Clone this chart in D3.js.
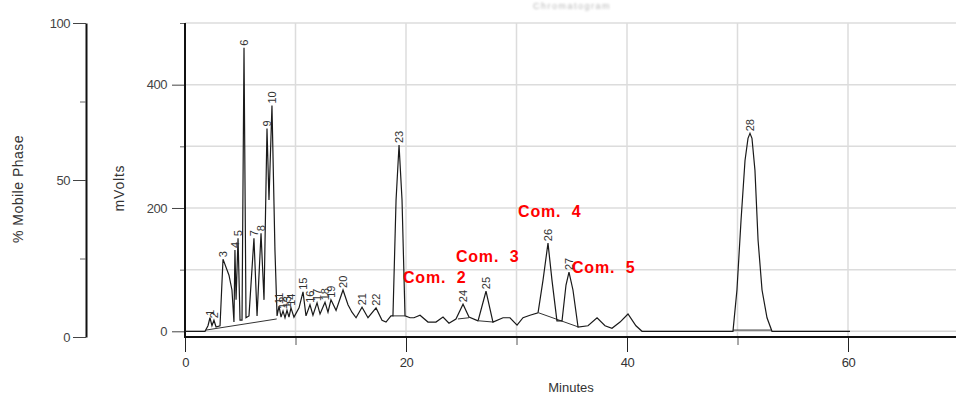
<!DOCTYPE html>
<html>
<head>
<meta charset="utf-8">
<script src="https://cdn.jsdelivr.net/npm/d3@7"></script>
<style>
  html, body { margin: 0; padding: 0; background: #fff; }
  svg { display: block; font-family: Arial, "Liberation Sans", sans-serif; }
</style>
</head>
<body>
<svg id="chart" width="956" height="397"></svg>
<script>
// Detector trace: [minutes, mV] vertices
const trace = [
  [0, 0], [1.81, 0], [2.08, 9], [2.26, 22], [2.44, 9], [2.62, 18], [2.81, 7], [3.17, 9],
  [3.44, 117], [3.98, 91], [4.25, 67], [4.43, 15], [4.52, 132], [4.62, 51], [4.80, 151],
  [4.98, 18], [5.16, 18], [5.34, 460], [5.52, 22], [5.79, 25], [6.24, 151], [6.52, 25],
  [6.88, 159], [7.15, 51], [7.42, 329], [7.60, 213], [7.87, 366], [8.14, 132], [8.33, 25],
  [8.51, 41], [8.69, 23], [8.87, 33], [9.05, 22], [9.23, 34], [9.41, 23], [9.59, 38],
  [9.86, 23], [10.32, 38], [10.68, 64], [10.95, 25], [11.31, 43], [11.58, 26], [11.95, 46],
  [12.22, 28], [12.67, 47], [12.94, 31], [13.21, 51], [13.67, 34], [14.30, 67], [14.75, 43],
  [15.11, 31], [15.48, 22], [16.02, 39], [16.56, 22], [17.29, 38], [17.83, 18], [18.19, 15],
  [18.64, 25], [18.82, 25], [19.10, 213], [19.37, 302], [19.64, 213], [19.91, 25],
  [20.36, 22], [20.72, 22], [21.27, 26], [21.99, 15], [22.71, 15], [23.35, 23], [23.89, 13],
  [24.52, 20], [25.16, 44], [25.70, 23], [26.52, 17], [27.24, 65], [27.87, 15], [28.78, 22],
  [29.41, 22], [30.05, 10], [30.59, 22], [31.22, 26], [31.95, 30], [32.40, 83], [32.85, 143],
  [33.21, 83], [33.66, 17], [34.12, 17], [34.48, 75], [34.75, 96], [35.11, 67], [35.57, 7],
  [36.47, 9], [37.29, 22], [38.01, 9], [38.64, 5], [39.37, 15], [40.09, 28], [40.81, 9],
  [41.36, 0], [49.59, 0], [49.95, 67], [50.32, 180], [50.68, 277], [50.95, 313], [51.13, 321],
  [51.31, 313], [51.58, 261], [51.86, 148], [52.22, 67], [52.67, 22], [53.12, 0], [60.18, 0]
];

// Integration baselines drawn beneath peaks
const baselines = [
  [[1.9, 2], [8.3, 20]],
  [[18.8, 25], [19.9, 25]],
  [[24.7, 20], [25.7, 22]],
  [[26.6, 17], [27.9, 15]],
  [[32.0, 30], [35.6, 7]],
  [[49.6, 2], [53.1, 2]]
];

// Peak numbers and their apex times (minutes)
const peakIds   = ["1","2","3","4","5","6","7","8","9","10","11","12","13","14","15","16","17","18","19","20","21","22","23","24","25","26","27","28"];
const peakTimes = [2.26, 2.62, 3.44, 4.52, 4.80, 5.34, 6.24, 6.88, 7.42, 7.87, 8.51, 8.87, 9.23, 9.59, 10.68, 11.31, 11.95, 12.67, 13.21, 14.30, 16.02, 17.29, 19.37, 25.16, 27.24, 32.85, 34.75, 51.13];

// Compound annotations: text, minutes, mV of text baseline
const compoundNames = ["Com.  2", "Com.  3", "Com.  4", "Com.  5"];
const compoundTimes = [19.73, 24.52, 30.14, 35.02];
const compoundMv    = [78, 112, 185, 94];

// Axis tick values
const mvTicksMajor = [0, 200, 400];
const mvTicksMinor = [100, 300, 500];
const mpTicksMajor = [0, 50, 100];
const mpTicksMinor = [25, 75];
const minuteTicksMajor = [0, 20, 40, 60];
const minuteTicksMinor = [10, 30, 50];
const gridMinutes = [10, 20, 30, 40, 50, 60];
const gridMv = [100, 200, 300, 400, 500];

const svg = d3.select("#chart");

const x = d3.scaleLinear().domain([0, 70]).range([185, 958.5]);
const y = d3.scaleLinear().domain([0, 500]).range([331.3, 23]);
const yMp = d3.scaleLinear().domain([0, 100]).range([337, 23]);
const plotBottom = 337;

// Title
svg.append("text")
  .attr("x", 572).attr("y", 9)
  .attr("text-anchor", "middle")
  .attr("font-size", 9).attr("letter-spacing", 1.5)
  .attr("fill", "#b8b8b8")
  .style("filter", "blur(0.8px)")
  .text("Chromatogram");

// Grid
const grid = svg.append("g").attr("stroke", "#dcdcdc").attr("stroke-width", 1.5);
grid.selectAll("line.h").data(gridMv).join("line")
  .attr("x1", x(0)).attr("x2", 956)
  .attr("y1", d => y(d)).attr("y2", d => y(d));
grid.selectAll("line.v").data(gridMinutes).join("line")
  .attr("x1", d => x(d)).attr("x2", d => x(d))
  .attr("y1", y(500)).attr("y2", plotBottom);
svg.append("line").attr("x1", x(0)).attr("x2", 956)
  .attr("y1", y(0)).attr("y2", y(0)).attr("stroke", "#d6d6d6").attr("stroke-width", 1.5);

// % Mobile Phase axis
const mpAxis = svg.append("g").attr("transform", "translate(86,0)");
mpAxis.call(d3.axisLeft(yMp).tickValues(mpTicksMajor).tickSize(13).tickPadding(3).tickSizeOuter(0))
  .call(g => g.select(".domain").attr("stroke", "#111").attr("stroke-width", 2))
  .call(g => g.selectAll(".tick line").attr("stroke", "#444"))
  .call(g => g.selectAll(".tick text").attr("font-size", 13).attr("fill", "#444")
    .attr("font-family", "Arial, 'Liberation Sans', sans-serif").attr("letter-spacing", -0.5));
mpAxis.append("g")
  .call(d3.axisLeft(yMp).tickValues(mpTicksMinor).tickSize(6).tickFormat("").tickSizeOuter(0))
  .call(g => g.select(".domain").remove())
  .call(g => g.selectAll(".tick line").attr("stroke", "#666"));

svg.append("text")
  .attr("transform", "translate(23,189) rotate(-90)")
  .attr("text-anchor", "middle")
  .attr("font-size", 14).attr("letter-spacing", 0.5).attr("fill", "#333")
  .text("% Mobile Phase");

// mVolts axis
const mvAxis = svg.append("g").attr("transform", `translate(${x(0)},0)`);
mvAxis.call(d3.axisLeft(y).tickValues(mvTicksMajor).tickSize(13).tickPadding(5).tickSizeOuter(0))
  .call(g => g.select(".domain").remove())
  .call(g => g.selectAll(".tick line").attr("stroke", "#444"))
  .call(g => g.selectAll(".tick text").attr("font-size", 13).attr("fill", "#444")
    .attr("font-family", "Arial, 'Liberation Sans', sans-serif").attr("letter-spacing", -0.5));
mvAxis.append("g")
  .call(d3.axisLeft(y).tickValues(mvTicksMinor).tickSize(5).tickFormat("").tickSizeOuter(0))
  .call(g => g.select(".domain").remove())
  .call(g => g.selectAll(".tick line").attr("stroke", "#666"));
svg.append("line").attr("x1", x(0)).attr("x2", x(0))
  .attr("y1", y(500)).attr("y2", plotBottom + 1)
  .attr("stroke", "#111").attr("stroke-width", 2);

svg.append("text")
  .attr("transform", "translate(124,188) rotate(-90)")
  .attr("text-anchor", "middle")
  .attr("font-size", 14).attr("letter-spacing", 0.8).attr("fill", "#333")
  .text("mVolts");

// Minutes axis
const xAxis = svg.append("g").attr("transform", `translate(0,${plotBottom})`);
xAxis.call(d3.axisBottom(x).tickValues(minuteTicksMajor).tickSize(15).tickPadding(6).tickSizeOuter(0))
  .call(g => g.select(".domain").remove())
  .call(g => g.selectAll(".tick line").attr("stroke", "#222"))
  .call(g => g.selectAll(".tick text").attr("font-size", 13).attr("fill", "#333")
    .attr("font-family", "Arial, 'Liberation Sans', sans-serif").attr("letter-spacing", -0.5));
xAxis.append("g")
  .call(d3.axisBottom(x).tickValues(minuteTicksMinor).tickSize(8).tickFormat("").tickSizeOuter(0))
  .call(g => g.select(".domain").remove())
  .call(g => g.selectAll(".tick line").attr("stroke", "#555"));
svg.append("line").attr("x1", x(0) - 1).attr("x2", 956)
  .attr("y1", plotBottom).attr("y2", plotBottom)
  .attr("stroke", "#111").attr("stroke-width", 2);

svg.append("text")
  .attr("x", 571).attr("y", 392)
  .attr("text-anchor", "middle")
  .attr("font-size", 13).attr("fill", "#333")
  .text("Minutes");

// Integration baselines
const line = d3.line().x(d => x(d[0])).y(d => y(d[1]));
svg.append("g").selectAll("path").data(baselines).join("path")
  .attr("d", line)
  .attr("fill", "none").attr("stroke", "#333").attr("stroke-width", 1);

// Trace
svg.append("path").datum(trace)
  .attr("d", line)
  .attr("fill", "none").attr("stroke", "#1a1a1a").attr("stroke-width", 1.2)
  .attr("stroke-linejoin", "miter");

// Peak number labels, placed above each apex
const apexMv = t => {
  const i = d3.minIndex(trace, d => Math.abs(d[0] - t));
  return trace[i][1];
};
const peaks = peakIds.map((id, i) => ({ id, t: peakTimes[i], mv: apexMv(peakTimes[i]) }));
svg.append("g").selectAll("text").data(peaks).join("text")
  .attr("transform", d => `translate(${x(d.t)},${y(d.mv) - 2}) rotate(-90)`)
  .attr("dy", "0.35em")
  .attr("font-size", 11).attr("fill", "#333")
  .text(d => d.id);

// Compound annotations
svg.append("g").selectAll("text").data(compoundNames).join("text")
  .attr("x", (d, i) => x(compoundTimes[i]))
  .attr("y", (d, i) => y(compoundMv[i]))
  .attr("font-size", 16).attr("font-weight", "bold")
  .attr("letter-spacing", 0.8)
  .attr("fill", "#ff0000")
  .style("white-space", "pre")
  .text(d => d);
</script>
</body>
</html>
